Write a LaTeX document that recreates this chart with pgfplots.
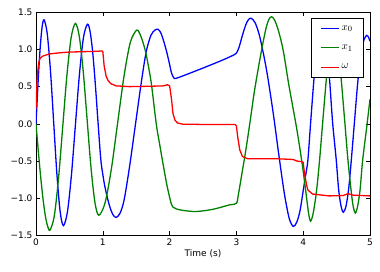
\documentclass[border=0pt]{standalone}
\usepackage{pgfplots}
\pgfplotsset{compat=1.18}
\usepackage{fontspec}
\setmainfont{DejaVu Sans}
\definecolor{mblue}{rgb}{0,0,1}
\definecolor{mgreen}{rgb}{0,0.5,0}
\definecolor{mred}{rgb}{1,0,0}
\begin{document}
\begin{tikzpicture}
\path[use as bounding box] (-36pt,-35.7pt) rectangle (344pt,235.3pt);
\begin{axis}[
  scale only axis,
  width=334pt, height=223pt,
  xmin=0, xmax=5, ymin=-1.5, ymax=1.5,
  xtick={0,1,2,3,4,5},
  xticklabels={0,1,2,3,4,5},
  ytick={-1.5,-1,-0.5,0,0.5,1,1.5},
  yticklabels={−1.5,−1.0,−0.5,0.0,0.5,1.0,1.5},
  tick align=inside,
  major tick length=4pt,
  tick style={black, line width=0.5pt},
  axis line style={line width=0.8pt},
  ticklabel style={font=\fontsize{9}{11}\selectfont},
  xlabel={Time (s)},
  xlabel style={font=\fontsize{9}{11}\selectfont, yshift=3pt},
  legend style={at={(0.982,0.973)}, anchor=north east, draw=black, line width=0.6pt,
    font=\fontsize{11}{13}\selectfont, row sep=9pt, inner xsep=9pt, inner ysep=5pt,
    /tikz/every even column/.append style={column sep=15pt}},
  legend cell align=left,
  legend image code/.code={\draw[#1, line width=1pt] (0pt,0pt) -- (18pt,0pt);},
]
% x0 (blue)
\addplot[mblue, line width=1.3pt, smooth] coordinates {
(0,0.0)(0.03,0.536)(0.06,0.99)(0.09,1.293)(0.12,1.40)
(0.168,1.214)(0.217,0.708)(0.265,0.015)(0.313,-0.678)(0.362,-1.184)(0.41,-1.37)
(0.47,-1.188)(0.53,-0.693)(0.59,-0.015)(0.65,0.663)(0.71,1.158)(0.77,1.34)
(0.81,1.24)(0.85,0.95)(0.89,0.51)(0.93,0.0)(0.97,-0.48)(1.0,-0.68)(1.03,-0.84)
(1.07,-1.0)(1.11,-1.13)(1.15,-1.22)(1.20,-1.26)
(1.26,-1.20)(1.32,-1.02)(1.40,-0.58)(1.49,0.0)(1.58,0.58)(1.65,0.97)(1.72,1.19)(1.78,1.26)(1.83,1.27)
(1.88,1.20)(1.95,0.99)(2.0,0.80)(2.03,0.68)(2.07,0.61)(2.12,0.62)
(2.2,0.645)(2.5,0.75)(2.8,0.86)(2.97,0.93)(3.0,0.95)
(3.04,1.03)(3.09,1.19)(3.14,1.33)(3.18,1.40)(3.22,1.42)
(3.28,1.36)(3.35,1.17)(3.45,0.73)(3.55,0.15)(3.64,-0.45)(3.72,-0.95)(3.79,-1.27)(3.85,-1.38)
(3.90,-1.33)(3.95,-1.18)(4.00,-0.90)(4.035,-0.70)(4.07,-0.49)(4.11,0.0)(4.16,0.59)
(4.20,0.96)(4.24,1.22)(4.275,1.30)(4.31,1.22)(4.35,0.98)(4.395,0.59)(4.44,0.02)(4.495,-0.49)
(4.53,-0.88)(4.565,-1.10)(4.60,-1.19)(4.64,-1.11)(4.68,-0.88)(4.72,-0.49)(4.765,0.0)(4.82,0.59)
(4.87,0.96)(4.91,1.13)(4.95,1.19)(4.98,1.16)(5.0,1.11)
};
\addlegendentry{$x_0$}
% x1 (green)
\addplot[mgreen, line width=1.3pt, smooth] coordinates {
(0,0.0)(0.035,-0.37)(0.07,-0.715)(0.105,-1.01)(0.14,-1.24)(0.175,-1.38)(0.21,-1.43)
(0.273,-1.244)(0.337,-0.735)(0.40,-0.04)(0.463,0.655)(0.527,1.164)(0.59,1.35)
(0.648,1.177)(0.707,0.705)(0.765,0.06)(0.823,-0.585)(0.882,-1.057)(0.94,-1.23)
(1.034,-1.063)(1.128,-0.608)(1.2225,0.015)(1.317,0.637)(1.411,1.093)(1.505,1.26)
(1.55,1.22)(1.60,1.10)(1.645,0.95)(1.69,0.74)(1.73,0.52)(1.80,0.0)(1.85,-0.27)(1.90,-0.53)
(1.95,-0.78)(1.98,-0.91)(2.02,-1.06)(2.05,-1.12)(2.10,-1.145)(2.2,-1.165)(2.4,-1.18)
(2.65,-1.15)(2.9,-1.09)(3.0,-1.07)
(3.03,-0.95)(3.075,-0.71)(3.14,-0.36)(3.20,0.0)(3.27,0.44)(3.35,0.86)(3.40,1.10)(3.45,1.31)
(3.49,1.41)(3.525,1.44)(3.57,1.40)(3.63,1.25)(3.70,0.99)(3.78,0.55)(3.84,0.25)(3.90,-0.05)
(3.95,-0.33)(4.00,-0.64)(4.05,-0.99)(4.08,-1.20)(4.11,-1.31)
(4.15,-1.20)(4.20,-0.90)(4.245,-0.49)(4.29,0.0)(4.345,0.59)(4.38,0.90)(4.42,1.16)(4.457,1.25)
(4.50,1.15)(4.54,0.88)(4.57,0.59)(4.625,0.0)(4.67,-0.49)(4.72,-0.92)(4.75,-1.12)(4.78,-1.20)
(4.81,-1.13)(4.85,-0.90)(4.89,-0.49)(4.95,-0.05)(5.0,0.33)
};
\addlegendentry{$x_1$}
% omega (red)
\addplot[mred, line width=1.3pt] coordinates {
(0,0.2)(0.01,0.45)(0.02,0.65)(0.04,0.82)(0.06,0.88)(0.10,0.91)(0.2,0.94)(0.35,0.955)
(0.5,0.965)(0.7,0.97)(0.9,0.975)(0.99,0.98)(1.0,0.97)(1.01,0.88)(1.02,0.78)(1.05,0.64)
(1.08,0.58)(1.12,0.54)(1.2,0.51)(1.4,0.50)(1.7,0.505)(1.9,0.51)(1.97,0.525)(2.0,0.51)
(2.01,0.455)(2.03,0.32)(2.05,0.14)(2.08,0.05)(2.12,0.01)(2.2,-0.005)(2.6,-0.01)(2.98,-0.01)
(3.0,-0.03)(3.02,-0.18)(3.05,-0.35)(3.09,-0.44)(3.17,-0.47)(3.6,-0.47)(3.85,-0.48)
(3.9,-0.50)(3.98,-0.51)(4.0,-0.52)(4.02,-0.67)(4.05,-0.82)(4.07,-0.89)(4.14,-0.945)
(4.39,-0.97)(4.6,-0.965)(4.67,-0.94)(4.75,-0.96)(5.0,-0.97)
};
\addlegendentry{$\omega$}
\end{axis}
\end{tikzpicture}
\end{document}
